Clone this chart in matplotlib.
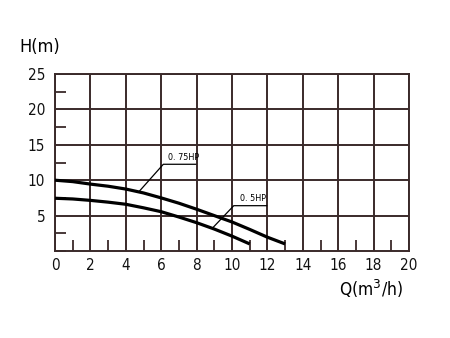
import matplotlib
matplotlib.use("Agg")
import matplotlib.pyplot as plt
from matplotlib.ticker import MultipleLocator

# pump curves
q_075 = [0, 1, 2, 3, 4, 5, 6, 7, 8, 9, 10, 11, 12, 13]
h_075 = [10, 9.8, 9.45, 9.15, 8.75, 8.2, 7.5, 6.75, 5.9, 5.0, 4.1, 3.05, 1.95, 1.0]
q_05 = [0, 1, 2, 3, 4, 5, 6, 7, 8, 9, 10, 11]
h_05 = [7.45, 7.35, 7.15, 6.9, 6.6, 6.1, 5.55, 4.8, 4.0, 3.1, 2.1, 1.0]

x_ticks = list(range(0, 21, 2))
y_ticks = [5, 10, 15, 20, 25]

GRID = "#3a2a2a"
FONT = dict(family="DejaVu Sans", stretch="condensed")

fig = plt.figure(figsize=(4.5, 3.38), dpi=100)
ax = fig.add_axes([55/450, 1 - 251/338, (409-55)/450, (251-74)/338])

ax.set_xlim(0, 20)
ax.set_ylim(0, 25)
ax.set_xticks(x_ticks)
ax.set_xticklabels([str(v) for v in x_ticks], fontsize=11, **FONT)
ax.set_yticks(y_ticks)
ax.set_yticklabels([str(v) for v in y_ticks], fontsize=11, **FONT)
ax.xaxis.set_minor_locator(MultipleLocator(1))
ax.yaxis.set_minor_locator(MultipleLocator(2.5))
ax.tick_params(which="major", length=0, colors="#111")
ax.tick_params(axis="x", which="major", pad=5)
ax.tick_params(axis="y", which="major", pad=7)
ax.tick_params(which="minor", direction="in", length=8, width=1.3, color=GRID)
ax.tick_params(which="minor", top=False, right=False)
ax.grid(True, which="major", color=GRID, lw=1.4)
for sp in ax.spines.values():
    sp.set_color(GRID)
    sp.set_linewidth(1.4)

ax.plot(q_075, h_075, color="black", lw=2.3, solid_capstyle="butt", zorder=3)
ax.plot(q_05, h_05, color="black", lw=2.3, solid_capstyle="butt", zorder=3)

# leader lines with labels
ax.plot([4.75, 6.12, 7.95], [8.4, 12.25, 12.25], color="black", lw=0.9, zorder=3)
ax.text(6.4, 12.6, "0. 75HP", fontsize=6.5, ha="left", va="bottom", **FONT)
ax.plot([8.94, 10.1, 11.96], [3.35, 6.4, 6.4], color="black", lw=0.9, zorder=3)
ax.text(10.45, 6.75, "0. 5HP", fontsize=6.5, ha="left", va="bottom", **FONT)

fig.text(40/450, 1 - 47/338, "H(m)", fontsize=13, ha="center", va="center", **FONT)
fig.text(371/450, 1 - 289/338, "Q(m$^3$/h)", fontsize=12.5, ha="center", va="center", **FONT)

fig.savefig("out.png", dpi=100)
